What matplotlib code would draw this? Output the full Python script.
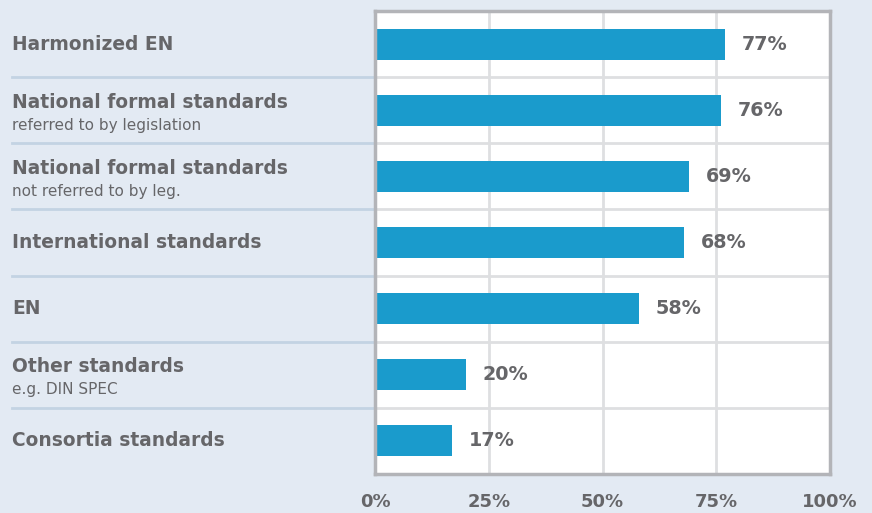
import matplotlib
matplotlib.use("Agg")
import matplotlib.pyplot as plt
import matplotlib.transforms as mtransforms

categories = ["Harmonized EN", "National formal standards", "National formal standards",
              "International standards", "EN", "Other standards", "Consortia standards"]
subtitles = ["", "referred to by legislation", "not referred to by leg.", "", "", "e.g. DIN SPEC", ""]
values = [77, 76, 69, 68, 58, 20, 17]
xticks = [0, 25, 50, 75, 100]
xticklabels = ["0%", "25%", "50%", "75%", "100%"]

BG = "#e3eaf3"
BAR = "#1a9bcc"
TXT = "#666669"
GRID = "#dedfe1"
BORDER = "#b3b4b8"
SEP = "#c3d3e3"
FONT = "DejaVu Sans"

W, H = 872, 513
fig = plt.figure(figsize=(W / 100, H / 100), dpi=100)
fig.patch.set_facecolor(BG)
L, R, T, B = 375, 830, 11, 474
ax = fig.add_axes([L / W, 1 - B / H, (R - L) / W, (B - T) / H])
ax.set_facecolor("white")

n = len(categories)
ys = list(range(n))
ax.set_xlim(0, 100)
ax.set_ylim(n - 0.5, -0.5)

for x in xticks[1:-1]:
    ax.axvline(x, color=GRID, lw=2, zorder=1)
for k in range(n - 1):
    ax.axhline(k + 0.5, color=GRID, lw=2, zorder=1)

ax.barh(ys, values, height=0.47, color=BAR, zorder=3)

for y, v in zip(ys, values):
    ax.annotate(f"{v}%", (v, y), xytext=(12, 0), textcoords="offset points",
                ha="left", va="center", fontsize=13.8, fontweight="bold",
                color=TXT, family=FONT)

trans = mtransforms.blended_transform_factory(ax.transAxes, ax.transData)
x_left = (12 - L) / (R - L)
for k in range(n - 1):
    ax.plot([x_left, 0], [k + 0.5, k + 0.5], transform=trans, color=SEP, lw=2,
            clip_on=False, zorder=0)

for y, cat, sub in zip(ys, categories, subtitles):
    if sub:
        ax.text(x_left, y - 0.12, cat, transform=trans, ha="left", va="center",
                fontsize=13.4, fontweight="bold", color=TXT, family=FONT)
        ax.text(x_left, y + 0.23, sub, transform=trans, ha="left", va="center",
                fontsize=11, color=TXT, family=FONT)
    else:
        ax.text(x_left, y, cat, transform=trans, ha="left", va="center",
                fontsize=13.4, fontweight="bold", color=TXT, family=FONT)

ax.set_xticks(xticks)
ax.set_xticklabels(xticklabels, fontsize=13, fontweight="bold", color=TXT, family=FONT)
ax.set_yticks([])
ax.tick_params(axis="x", length=0, pad=14)
for s in ax.spines.values():
    s.set_color(BORDER)
    s.set_linewidth(2.5)
    s.set_zorder(5)

fig.savefig("out.png", dpi=100, facecolor=BG)
